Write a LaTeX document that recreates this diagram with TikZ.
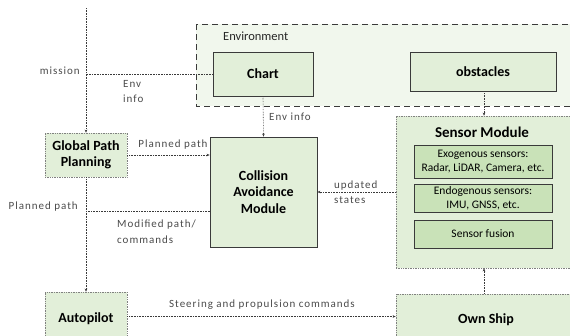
\documentclass[tikz,border=0pt]{standalone}
\usepackage{fontspec}
\setmainfont{Carlito}
\newfontfamily\lblfont[LetterSpace=9]{Carlito}
\usetikzlibrary{arrows.meta}
\definecolor{CAFill}{HTML}{E2EFD9}
\definecolor{CAInner}{HTML}{C9E2B8}
\definecolor{CAEnv}{HTML}{F1F7ED}
\definecolor{CALine}{HTML}{3A3A3A}
\definecolor{CAText}{HTML}{4A4A4A}
\tikzset{
  solidbox/.style={draw=CALine,fill=CAFill,line width=0.8pt,font=\bfseries\fontsize{14}{16.5}\selectfont,align=center,inner sep=0pt},
  dotbox/.style={draw=gray,densely dotted,fill=CAFill,line width=0.7pt,font=\bfseries\fontsize{14}{16.5}\selectfont,align=center,inner sep=0pt},
  innerbox/.style={draw=CALine,fill=CAInner,line width=0.6pt,font=\fontsize{11.5}{14}\selectfont,align=center,inner sep=0pt,minimum width=138pt},
  flow/.style={draw=CALine,densely dotted,line width=0.6pt,-{Stealth[length=3pt,width=2.6pt]}},
  flowline/.style={draw=CALine,densely dotted,line width=0.6pt},
  lbl/.style={text=CAText,font=\lblfont\fontsize{11}{15.5}\selectfont,inner sep=0pt,align=left}
}
\begin{document}
\begin{tikzpicture}[x=1pt,y=-1pt]
\path[use as bounding box] (0,0) rectangle (570,335);
% environment
\draw[CALine,dashed,dash pattern=on 6pt off 4pt,fill=CAEnv,line width=0.8pt] (196,24) rectangle (580,106);
\node[anchor=west,inner sep=0pt,font=\fontsize{12.5}{14}\selectfont,text=black!85] (envlbl) at (223,36) {Environment};
\node[solidbox,minimum width=100pt,minimum height=44pt] (chart) at (263,74) {Chart};
\node[solidbox,minimum width=146pt,minimum height=39pt] (obstacles) at (483,71.5) {obstacles};
% main blocks
\node[dotbox,minimum width=82pt,minimum height=44pt] (gpp) at (86,155) {Global Path\\Planning};
\node[solidbox,minimum width=107pt,minimum height=110pt] (cam) at (263.5,192) {Collision\\Avoidance\\Module};
\node[dotbox,minimum width=180pt,minimum height=152pt] (sensor) at (486,192) {};
\node[font=\bfseries\fontsize{15}{17}\selectfont,inner sep=0pt] (sensorlbl) at (482,132) {Sensor Module};
\node[innerbox,minimum height=33pt] (exo) at (483,161.5) {Exogenous sensors:\\Radar, LiDAR, Camera, etc.};
\node[innerbox,minimum height=28pt] (endo) at (483,198) {Endogenous sensors:\\IMU, GNSS, etc.};
\node[innerbox,minimum height=28pt] (fusion) at (483,234) {Sensor fusion};
\node[dotbox,minimum width=82pt,minimum height=53pt] (autopilot) at (86,318.5) {Autopilot};
\node[dotbox,minimum width=180pt,minimum height=51pt] (ownship) at (486,319.5) {Own Ship};
% connectors
\coordinate (start) at (86,8);
\coordinate (modified) at (210,211);
\draw[flow] (start) -- (gpp.north);
\draw[flowline] (chart.west) -- (chart.west -| start);
\draw[flow] (chart.south) -- (cam.north);
\draw[flow] (gpp.east) -- (gpp.east -| cam.west);
\draw[flow] (gpp.south) -- (autopilot.north);
\draw[flowline] (modified) -- (modified -| gpp.south);
\draw[flow] (sensor.west) -- (sensor.west -| cam.east);
\draw[flow] (obstacles.south -| 484,0) -- (sensor.north -| 484,0);
\draw[flow] (ownship.north -| 484,0) -- (sensor.south -| 484,0);
\draw[flow] ([yshift=2pt]autopilot.east) -- ([yshift=2pt]autopilot.east -| ownship.west);
% labels
\node[lbl,anchor=east] (mission) at (80,71) {mission};
\node[lbl,anchor=north west] (envinfo) at (123,80) {Env\\info};
\node[lbl,anchor=west] (envinfocam) at (269,117) {Env info};
\node[lbl] (planned) at (173,145) {Planned path};
\node[lbl,anchor=east] (plannedout) at (78,207) {Planned path};
\node[lbl,anchor=north west] (modlbl) at (117,220) {Modified path/\\commands};
\node[lbl,anchor=west] (updlbl) at (334,192) {updated\\states};
\node[lbl] (steer) at (262,305) {Steering and propulsion commands};
\end{tikzpicture}
\end{document}
